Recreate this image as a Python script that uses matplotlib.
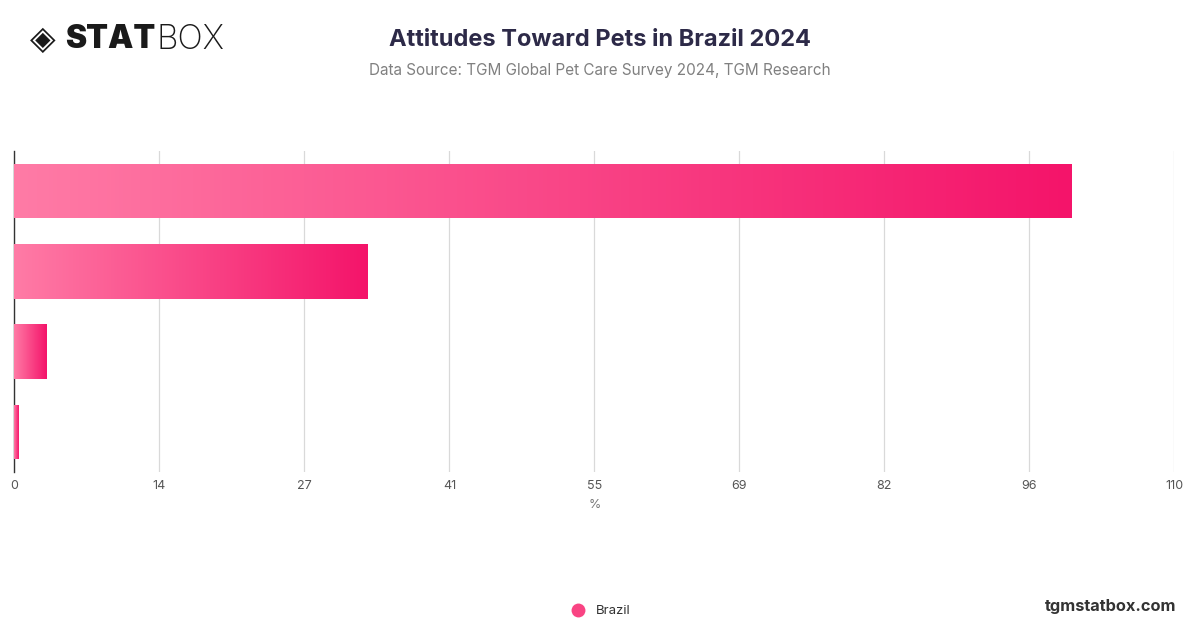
import matplotlib.pyplot as plt
import numpy as np
from matplotlib.colors import LinearSegmentedColormap

# data
categories = ["Statement 1", "Statement 2", "Statement 3", "Statement 4"]
values = [100.3, 33.5, 3.1, 0.45]
tick_vals = [0, 13.75, 27.5, 41.25, 55, 68.75, 82.5, 96.25, 110]
tick_labels = ["0", "14", "27", "41", "55", "69", "82", "96", "110"]
series_name = "Brazil"

plt.rcParams['font.family'] = ['Inter', 'DejaVu Sans']

fig = plt.figure(figsize=(12, 6.28), dpi=100)
ax = fig.add_axes([0.012, 0.2484, 0.9667, 0.5112])

pink_cmap = LinearSegmentedColormap.from_list("pinkgrad", ["#ff7ba6", "#f4146a"])
grad = np.linspace(0, 1, 256).reshape(1, -1)

y = np.arange(len(categories))
bars = ax.barh(y, values, height=0.68, color="none", edgecolor="none", zorder=3)
for b in bars:
    x0, y0 = b.get_x(), b.get_y()
    w, h = b.get_width(), b.get_height()
    im = ax.imshow(grad, cmap=pink_cmap, aspect="auto",
                   extent=(x0, x0 + w, y0, y0 + h), zorder=3, interpolation="bicubic")
    im.set_clip_path(b)

ax.set_xlim(0, 110)
ax.set_ylim(len(categories) - 0.5, -0.5)
ax.set_xticks(tick_vals)
ax.set_xticklabels(tick_labels)
ax.set_yticks([])
ax.grid(axis="x", color="#d9d9d9", linewidth=0.9, zorder=0)
for s in ["top", "right", "bottom"]:
    ax.spines[s].set_visible(False)
ax.spines["left"].set_color("#333333")
ax.spines["left"].set_linewidth(1.0)
ax.tick_params(axis="x", length=0, pad=6, labelsize=9, labelcolor="#555555")
ax.set_xlabel("%", fontsize=9, color="#777777", labelpad=5)

# titles
fig.text(0.5, 0.937, "Attitudes Toward Pets in Brazil 2024", ha="center", va="center",
         fontsize=17, fontweight="bold", color="#2d2a48")
fig.text(0.5, 0.887, "Data Source: TGM Global Pet Care Survey 2024, TGM Research",
         ha="center", va="center", fontsize=11, color="#808080")

# logo
fig.text(0.036, 0.937, "\u25C8", ha="center", va="center", fontsize=24, color="#1a1a1a",
         family=['DejaVu Sans'])
fig.text(0.054, 0.937, "STAT", ha="left", va="center", fontsize=23, fontweight="black",
         color="#1a1a1a")
fig.text(0.1305, 0.937, "BOX", ha="left", va="center", fontsize=24, fontweight="light",
         color="#1a1a1a")

# legend
fig.legend([plt.Line2D([], [], marker="o", linestyle="none", markersize=10,
                       markerfacecolor="#f94483", markeredgecolor="none")],
           [series_name], loc="center", bbox_to_anchor=(0.498, 0.027), frameon=False,
           fontsize=9.5, handletextpad=0.3, labelcolor="#333333")

fig.text(0.98, 0.035, "tgmstatbox.com", ha="right", va="center", fontsize=11.8,
         fontweight="bold", color="#333333")

fig.savefig("out.png", dpi=100)
